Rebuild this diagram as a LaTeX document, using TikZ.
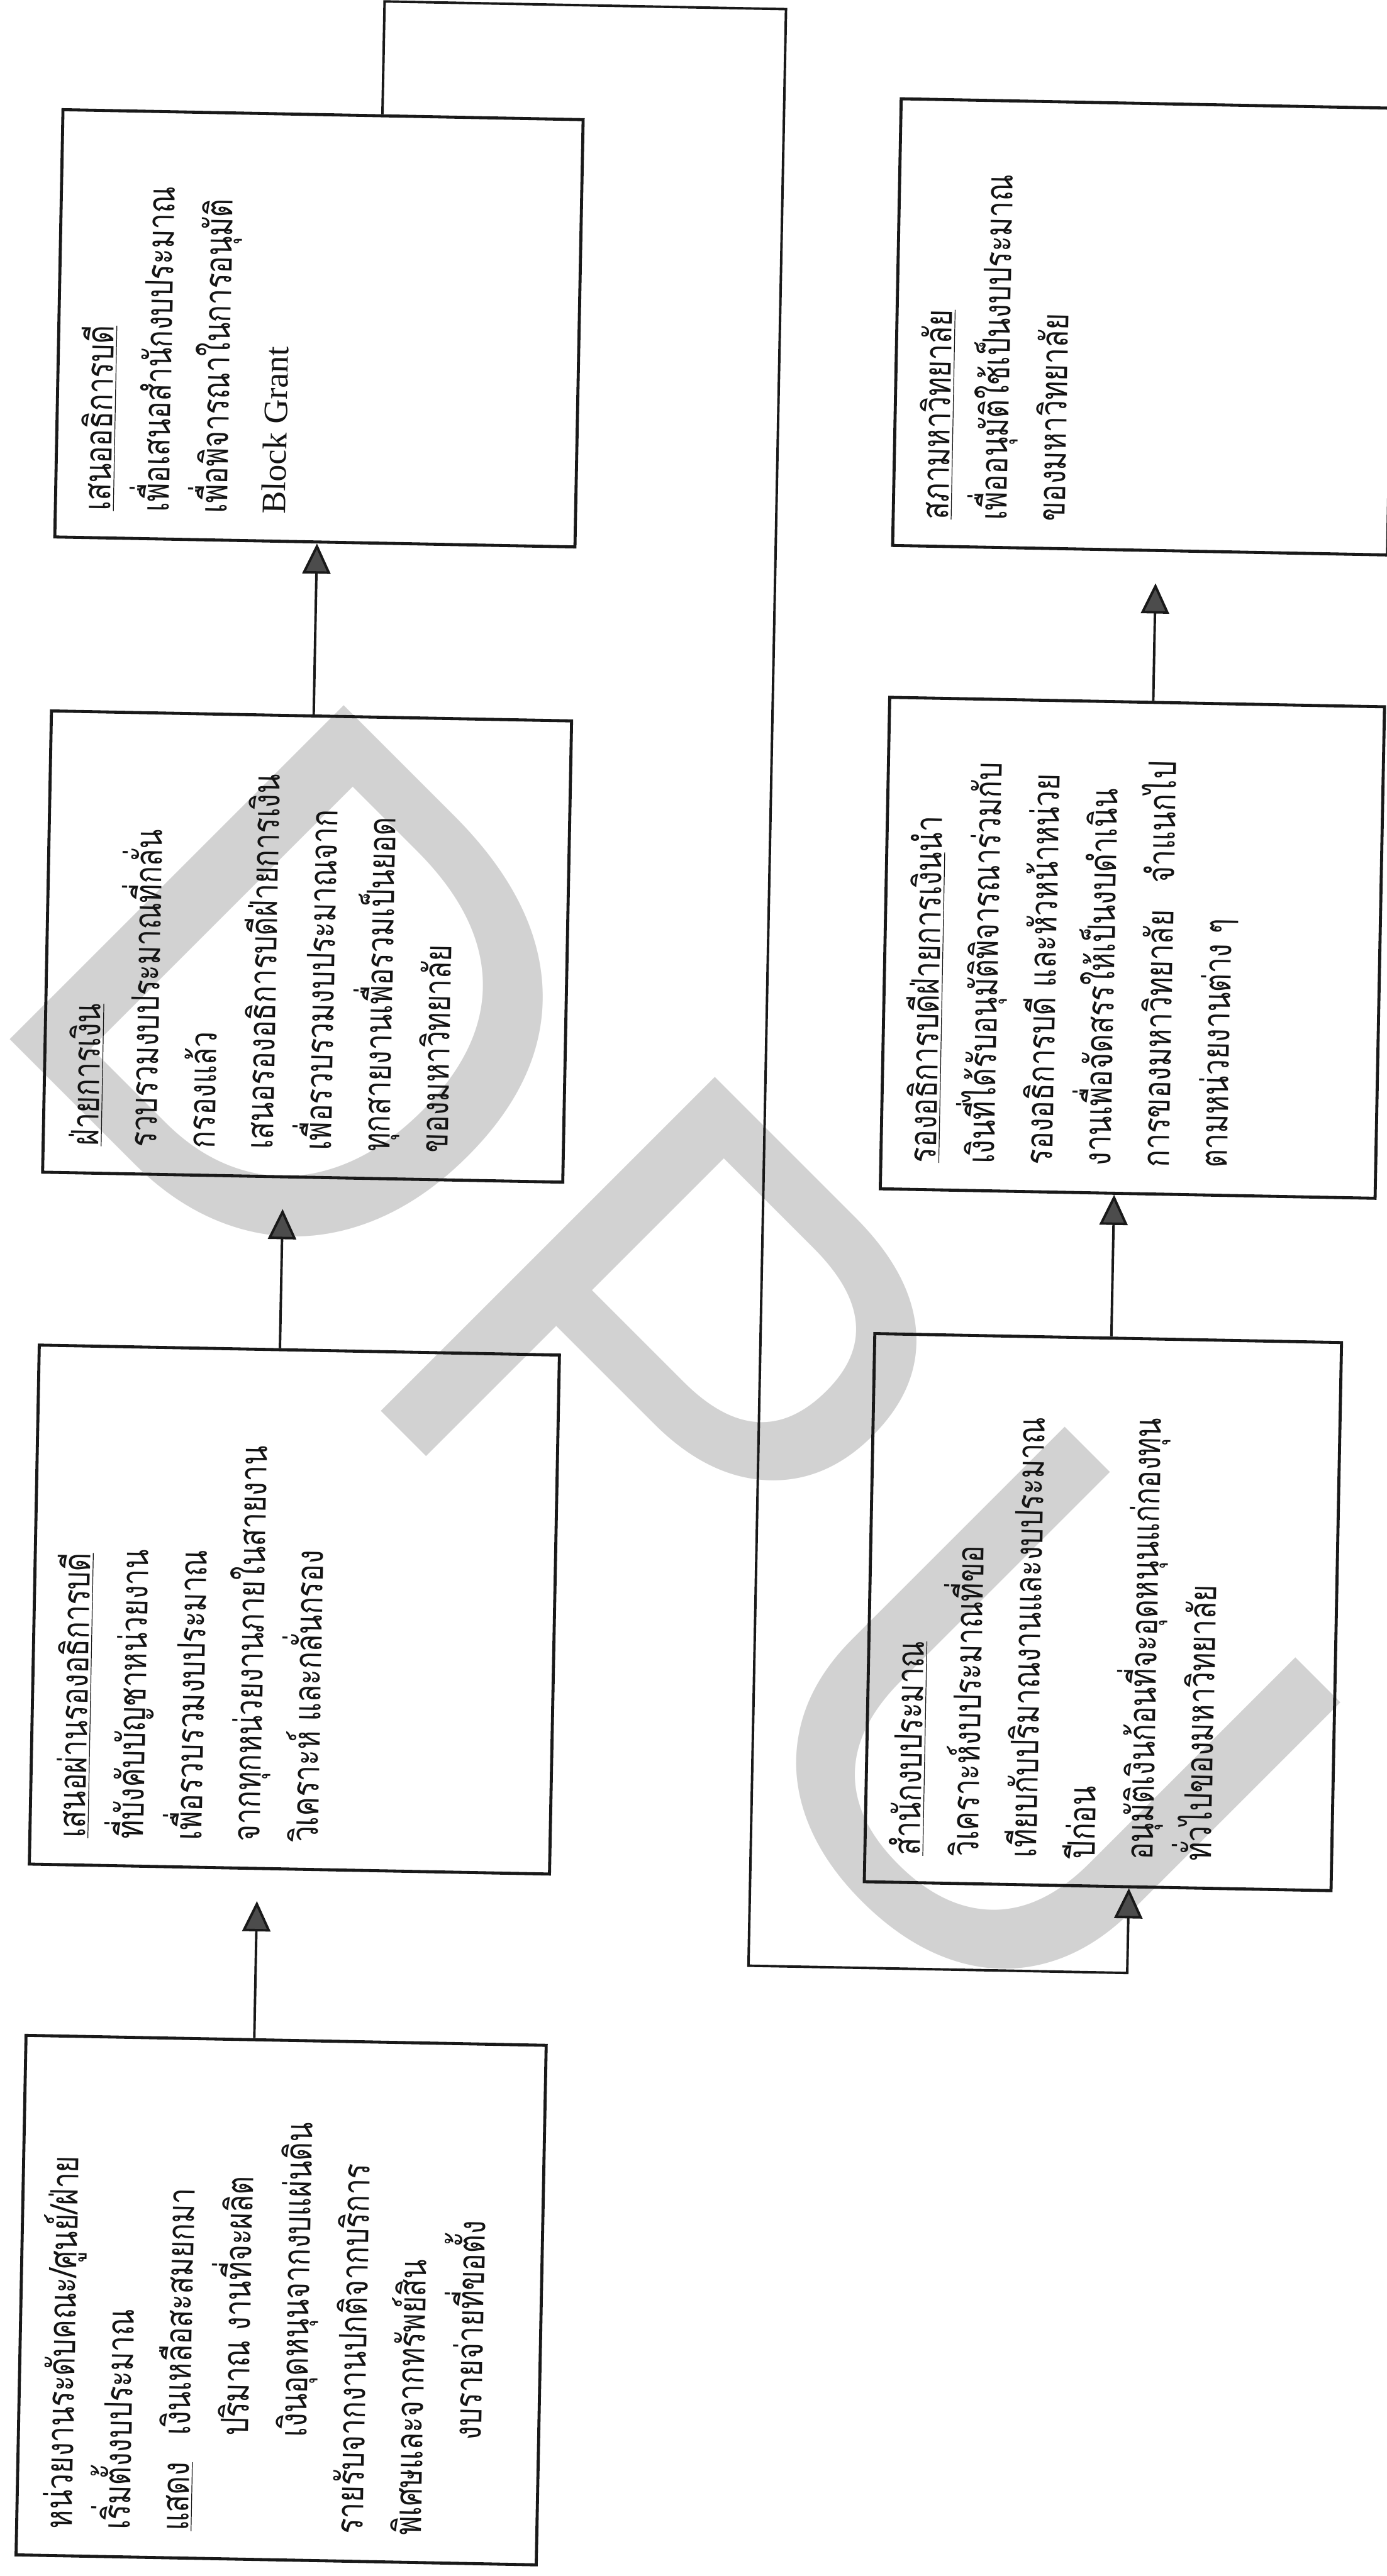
\documentclass[tikz,border=0pt]{standalone}
\usepackage{fontspec}
\setmainfont{Liberation Serif}
\newfontfamily\thaifont[Script=Thai,FakeStretch=0.76]{Loma}
\newfontfamily\latinfont{Liberation Serif}
\newfontfamily\wmfont{Liberation Sans}
\usetikzlibrary{arrows.meta,calc}
\definecolor{wmgray}{RGB}{210,210,210}
\newcommand{\tabA}{\hphantom{แสดง}\hspace{0.5cm}}
\newcommand{\topln}{\vrule height 22pt depth 0pt width 0pt\relax}

\begin{document}
\lineskiplimit=-100pt
\begin{tikzpicture}[
    box/.style={draw=black!90, line width=1.6pt, inner sep=0pt},
    txt/.style={rotate=90, anchor=north west, align=left, inner sep=0pt,
      text=black!92, font=\thaifont\fontsize{20}{30.7}\selectfont},
    arr/.style={draw=black!90, line width=1.3pt,
      -{Triangle[width=0.52cm,length=0.56cm,fill=black!70]}},
  ]
  \useasboundingbox (0,0) rectangle (25.70,-47.74);
  \clip (0,0) rectangle (25.70,-47.74);

  % watermark
  \node[rotate=-45, anchor=north west, inner sep=0pt, text=wmgray,
    font=\wmfont\fontsize{362}{362}\selectfont] (mark) at (5.63,-12.33)
    {D\hspace{0.55cm}P\hspace{0.75cm}U};

  \begin{scope}[rotate around={-1.1:(12.85,-23.87)}, transform shape]
    % left column
    \node[box, minimum width=9.64cm, minimum height=9.63cm] (boxA) at (5.57,-42.77) {};
    \node[box, minimum width=9.64cm, minimum height=9.62cm] (boxB) at (5.57,-29.97) {};
    \node[box, minimum width=9.64cm, minimum height=8.55cm] (boxC) at (5.57,-17.68) {};
    \node[box, minimum width=9.64cm, minimum height=7.92cm] (boxD) at (5.57,-6.22) {};
    % right column
    \node[box, minimum width=8.65cm, minimum height=10.16cm] (boxE) at (20.55,-29.73) {};
    \node[box, minimum width=9.17cm, minimum height=9.11cm] (boxF) at (20.86,-17.41) {};
    \node[box, minimum width=9.17cm, minimum height=8.28cm] (boxG) at (20.86,-5.90) {};

    \node[txt] (tA) at ($(boxA.south west)+(0.27,0.52)$) {\topln หน่วยงานระดับคณะ/ศูนย์/ฝ่าย\\
      เริ่มตั้งงบประมาณ\\
      \underline{แสดง}\hspace{0.5cm}เงินเหลือสะสมยกมา\\
      \tabA ปริมาณ งานที่จะผลิต\\
      \tabA เงินอุดหนุนจากงบแผ่นดิน\\
      รายรับจากงานปกติจากบริการ\\
      พิเศษและจากทรัพย์สิน\\
      \tabA งบรายจ่ายที่ขอตั้ง};
    \node[txt] (tB) at ($(boxB.south west)+(0.27,0.52)$) {\topln\underline{เสนอผ่านรองอธิการบดี}\\
      ที่บังคับบัญชาหน่วยงาน\\
      เพื่อรวบรวมงบประมาณ\\
      จากทุกหน่วยงานภายในสายงาน\\
      วิเคราะห์ และกลั่นกรอง};
    \node[txt] (tC) at ($(boxC.south west)+(0.27,0.52)$) {\topln\underline{ฝ่ายการเงิน}\\
      รวบรวมงบประมาณที่กลั่น\\
      กรองแล้ว\\
      เสนอรองอธิการบดีฝ่ายการเงิน\\
      เพื่อรวบรวมงบประมาณจาก\\
      ทุกสายงานเพื่อรวมเป็นยอด\\
      ของมหาวิทยาลัย};
    \node[txt] (tD) at ($(boxD.south west)+(0.27,0.52)$) {\topln\underline{เสนออธิการบดี}\\
      เพื่อเสนอสำนักงบประมาณ\\
      เพื่อพิจารณาในการอนุมัติ\\
      {\latinfont\fontsize{18}{30.7}\selectfont Block Grant}};
    \node[txt] (tE) at ($(boxE.south west)+(0.27,0.52)$) {\topln\underline{สำนักงบประมาณ}\\
      วิเคราะห์งบประมาณที่ขอ\\
      เทียบกับปริมาณงานและงบประมาณ\\
      ปีก่อน\\
      อนุมัติเงินก้อนที่จะอุดหนุนแก่กองทุน\\
      ทั่วไปของมหาวิทยาลัย};
    \node[txt] (tF) at ($(boxF.south west)+(0.27,0.52)$) {\topln\underline{รองอธิการบดีฝ่ายการเงิน}นำ\\
      เงินที่ได้รับอนุมัติพิจารณาร่วมกับ\\
      รองอธิการบดี และหัวหน้าหน่วย\\
      งานเพื่อจัดสรรให้เป็นงบดำเนิน\\
      การของมหาวิทยาลัย\hspace{0.5cm}จำแนกไป\\
      ตามหน่วยงานต่าง ๆ};
    \node[txt] (tG) at ($(boxG.south west)+(0.27,0.52)$) {\topln\underline{สภามหาวิทยาลัย}\\
      เพื่ออนุมัติใช้เป็นงบประมาณ\\
      ของมหาวิทยาลัย};

    % arrows
    \draw[arr, shorten >=0.58cm] ($(boxA.north)+(-0.59,0)$) -- ($(boxB.south)+(-0.59,0)$);
    \draw[arr, shorten >=0.57cm] ($(boxB.north)+(-0.36,0)$) -- ($(boxC.south)+(-0.36,0)$);
    \draw[arr] ($(boxC.north)+(0.04,0)$) -- ($(boxD.south)+(0.04,0)$);
    \draw[arr] ($(boxE.north)+(0.06,0)$) -- ($(boxF.south)+(-0.25,0)$);
    \draw[arr, shorten >=0.58cm] ($(boxF.north)+(0.30,0)$) -- ($(boxG.south)+(0.30,0)$);

    % round from the top box to the budget office
    \coordinate (turnD) at (6.67,-0.14);
    \coordinate (turnA) at (14.11,-0.14);
    \coordinate (turnB) at (14.11,-36.41);
    \coordinate (turnE) at (21.13,-36.41);
    \draw[arr] ($(boxD.north)+(1.10,0)$) -- (turnD) -- (turnA) -- (turnB) -- (turnE)
      -- ($(boxE.south)+(0.58,0)$);
  \end{scope}
\end{tikzpicture}
\end{document}
